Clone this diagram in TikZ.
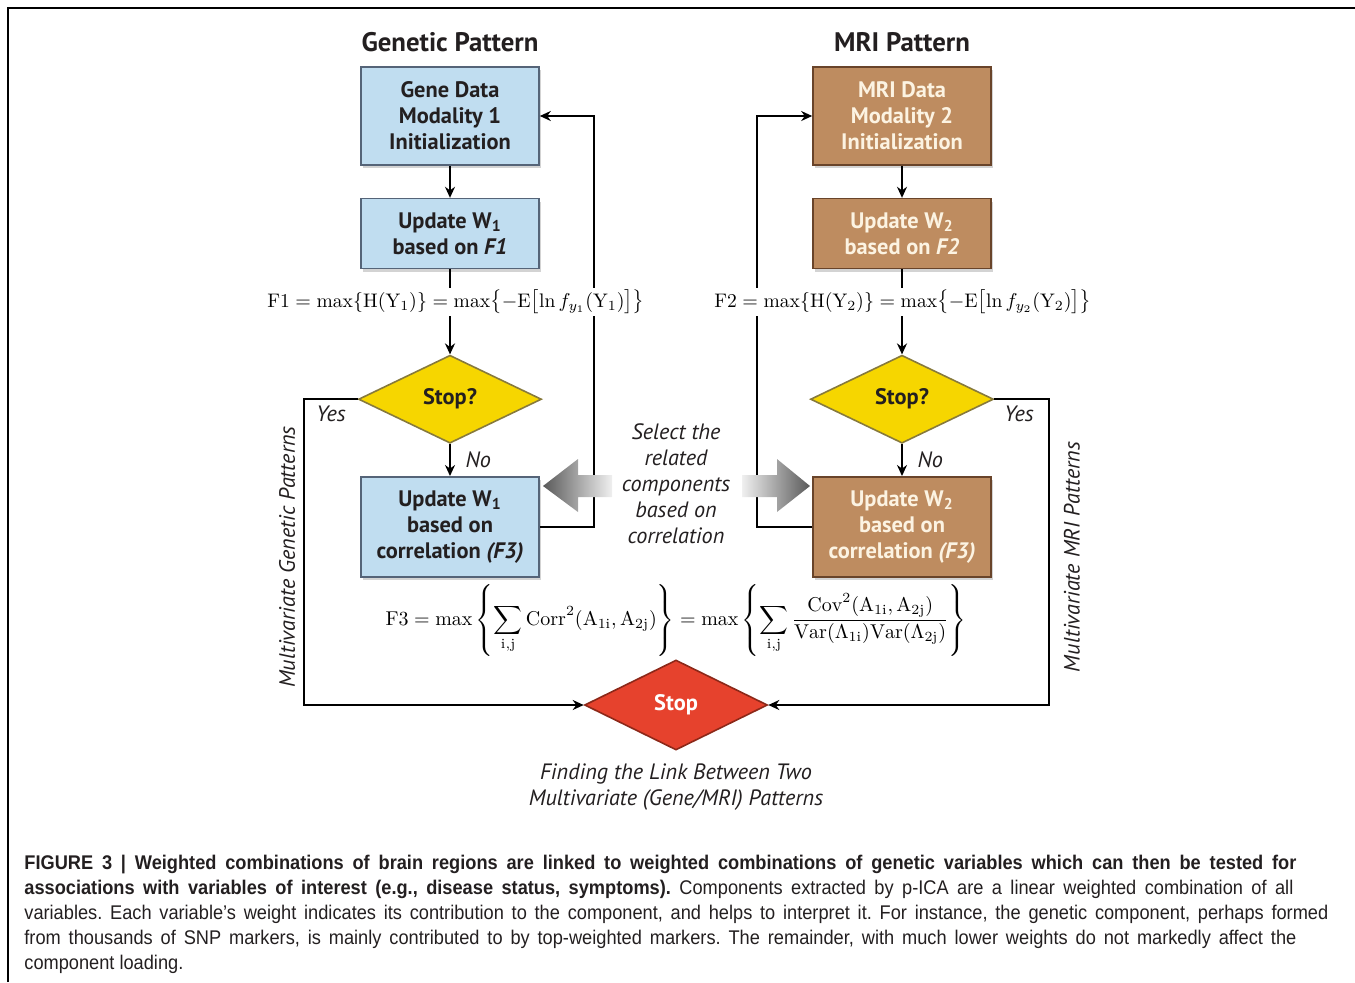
\documentclass[tikz,border=0pt]{standalone}
\usepackage{amsmath}
\usepackage{fontspec}
\newfontfamily\myriad{PT Sans}
\newfontfamily\capfont[FakeStretch=0.92]{Liberation Sans}
\usepackage{tikz}
\usetikzlibrary{positioning, shapes.geometric, arrows.meta, shadows}

\definecolor{inkcol}{RGB}{35,31,32}
\definecolor{genefill}{RGB}{192,221,240}
\definecolor{geneedge}{RGB}{85,100,120}
\definecolor{mrifill}{RGB}{190,140,96}
\definecolor{mriedge}{RGB}{105,68,42}
\definecolor{mritext}{RGB}{252,243,226}
\definecolor{askfill}{RGB}{246,214,0}
\definecolor{askedge}{RGB}{135,122,60}
\definecolor{endfill}{RGB}{230,66,45}
\definecolor{endedge}{RGB}{140,40,25}

\newcommand\boxfont{\myriad\bfseries\fontsize{11.2}{13}\selectfont}
\newcommand\wsub[1]{W\textsubscript{#1}}
\frenchspacing

\begin{document}
\begin{tikzpicture}[x=0.5pt, y=-0.5pt,
    genebox/.style={draw=geneedge, fill=genefill, line width=0.8pt,
      minimum width=89pt, align=center, font=\boxfont, text=inkcol,
      drop shadow={shadow xshift=1.2pt, shadow yshift=-1.5pt, opacity=0.35}},
    mribox/.style={genebox, draw=mriedge, fill=mrifill, text=mritext},
    askbox/.style={diamond, draw=askedge, fill=askfill, line width=0.8pt,
      minimum width=91.5pt, minimum height=44pt, inner sep=0pt,
      font=\boxfont, text=inkcol},
    endbox/.style={askbox, draw=endedge, fill=endfill, minimum height=45pt, text=white},
    flowline/.style={line width=1pt, -{Stealth[length=5.5pt, width=5pt]}},
    eqnode/.style={fill=white, inner sep=1pt, font=\fontsize{9.8}{12}\selectfont},
    sidelabel/.style={font=\myriad\itshape\fontsize{11.1}{13}\selectfont,
      text=inkcol, align=center},
    capline/.style={anchor=base west, inner sep=0pt, text=inkcol,
      font=\capfont\fontsize{9.9}{12.5}\selectfont}
  ]
  \useasboundingbox (0,0) rectangle (1355,982);
  \draw[line width=1.3pt] (8,982) -- (8,8) -- (1355,8);

  % genetic side
  \node[font=\myriad\bfseries\fontsize{13.4}{15}\selectfont, text=inkcol] (gtitle) at (450,42) {Genetic Pattern};
  \node[genebox, minimum height=49pt] (gene) at (450,116) {Gene Data\\Modality 1\\Initialization};
  \node[genebox, minimum height=35pt, below=16pt of gene] (geneF1) {Update \wsub{1}\\based on \textit{F1}};
  \node[askbox, below=42.5pt of geneF1] (gstop) {Stop?};
  \node[genebox, minimum height=50pt, below=16pt of gstop] (gcorr) {Update \wsub{1}\\based on\\correlation \textit{(F3)}};

  % MRI side
  \node[font=\myriad\bfseries\fontsize{13.4}{15}\selectfont, text=inkcol] (mtitle) at (902,42) {MRI Pattern};
  \node[mribox, minimum height=49pt] (mri) at (902,116) {MRI Data\\Modality 2\\Initialization};
  \node[mribox, minimum height=35pt, below=16pt of mri] (mriF2) {Update \wsub{2}\\based on \textit{F2}};
  \node[askbox, below=42.5pt of mriF2] (mstop) {Stop?};
  \node[mribox, minimum height=50pt, below=16pt of mstop] (mcorr) {Update \wsub{2}\\based on\\correlation \textit{(F3)}};

  \node[endbox] (stop) at (676,705) {Stop};

  \draw[flowline] (gene) -- (geneF1);
  \draw[flowline] (geneF1) -- (gstop);
  \draw[flowline] (gstop) -- node[right, sidelabel, xshift=4pt] {No} (gcorr);
  \draw[flowline] (gcorr.east) -- ++(54,0) |- (gene.east);
  \draw[flowline] (gstop.west) -- ++(-54,0) |- (stop.west);

  \draw[flowline] (mri) -- (mriF2);
  \draw[flowline] (mriF2) -- (mstop);
  \draw[flowline] (mstop) -- node[right, sidelabel, xshift=4pt] {No} (mcorr);
  \draw[flowline] (mcorr.west) -- ++(-55,0) |- (mri.west);
  \draw[flowline] (mstop.east) -- ++(55,0) |- (stop.east);

  \node[sidelabel] (gyes) at (331,414) {Yes};
  \node[sidelabel] (myes) at (1019,414) {Yes};
  \node[sidelabel, rotate=90] (gside) at (287,557) {Multivariate Genetic Patterns};
  \node[sidelabel, rotate=90] (mside) at (1072,557) {Multivariate MRI Patterns};

  \shade[left color=gray!70!black, right color=gray!12]
    (543,486) -- (578,459) -- (578,475) -- (612,475) -- (612,497) -- (578,497) -- (578,512) -- cycle;
  \shade[left color=gray!12, right color=gray!70!black]
    (810,486) -- (777,459) -- (777,475) -- (742,475) -- (742,497) -- (777,497) -- (777,512) -- cycle;
  \node[sidelabel] (select) at (676,484) {Select the\\related\\components\\based on\\correlation};

  \node[eqnode] (f1) at (456,302)
    {$\mathrm{F1}=\max\{\mathrm{H}(\mathrm{Y}_1)\}=\max\bigl\{-\mathrm{E}\bigl[\ln f_{y_1}(\mathrm{Y}_1)\bigr]\bigr\}$};
  \node[eqnode] (f2) at (903,302)
    {$\mathrm{F2}=\max\{\mathrm{H}(\mathrm{Y}_2)\}=\max\bigl\{-\mathrm{E}\bigl[\ln f_{y_2}(\mathrm{Y}_2)\bigr]\bigr\}$};
  \node[eqnode, font=\fontsize{10}{12}\selectfont] (f3) at (676,620)
    {$\displaystyle\mathrm{F3}=\max\left\{\sum_{\mathrm{i,j}}\mathrm{Corr}^2(\mathrm{A}_{1\mathrm{i}},\mathrm{A}_{2\mathrm{j}})\right\}
      =\max\left\{\sum_{\mathrm{i,j}}\frac{\mathrm{Cov}^2(\mathrm{A}_{1\mathrm{i}},\mathrm{A}_{2\mathrm{j}})}{\mathrm{Var}(\Lambda_{1\mathrm{i}})\mathrm{Var}(\Lambda_{2\mathrm{j}})}\right\}$};

  \node[sidelabel] (link) at (676,787) {Finding the Link Between Two\\Multivariate (Gene/MRI) Patterns};

  % caption
  \node[capline] (cap1) at (24,869) {\makebox[636pt][s]{\bfseries FIGURE 3 | Weighted combinations of brain regions are linked to weighted combinations of genetic variables which can then be tested for}};
  \node[capline] (cap2) at (24,894) {\makebox[634.5pt][s]{\textbf{associations with variables of interest (e.g., disease status, symptoms).} Components extracted by p-ICA are a linear weighted combination of all}};
  \node[capline] (cap3) at (24,919) {\makebox[652pt][s]{variables. Each variable’s weight indicates its contribution to the component, and helps to interpret it. For instance, the genetic component, perhaps formed}};
  \node[capline] (cap4) at (24,944) {\makebox[636pt][s]{from thousands of SNP markers, is mainly contributed to by top-weighted markers. The remainder, with much lower weights do not markedly affect the}};
  \node[capline] (cap5) at (24,969) {component loading.};
\end{tikzpicture}
\end{document}
